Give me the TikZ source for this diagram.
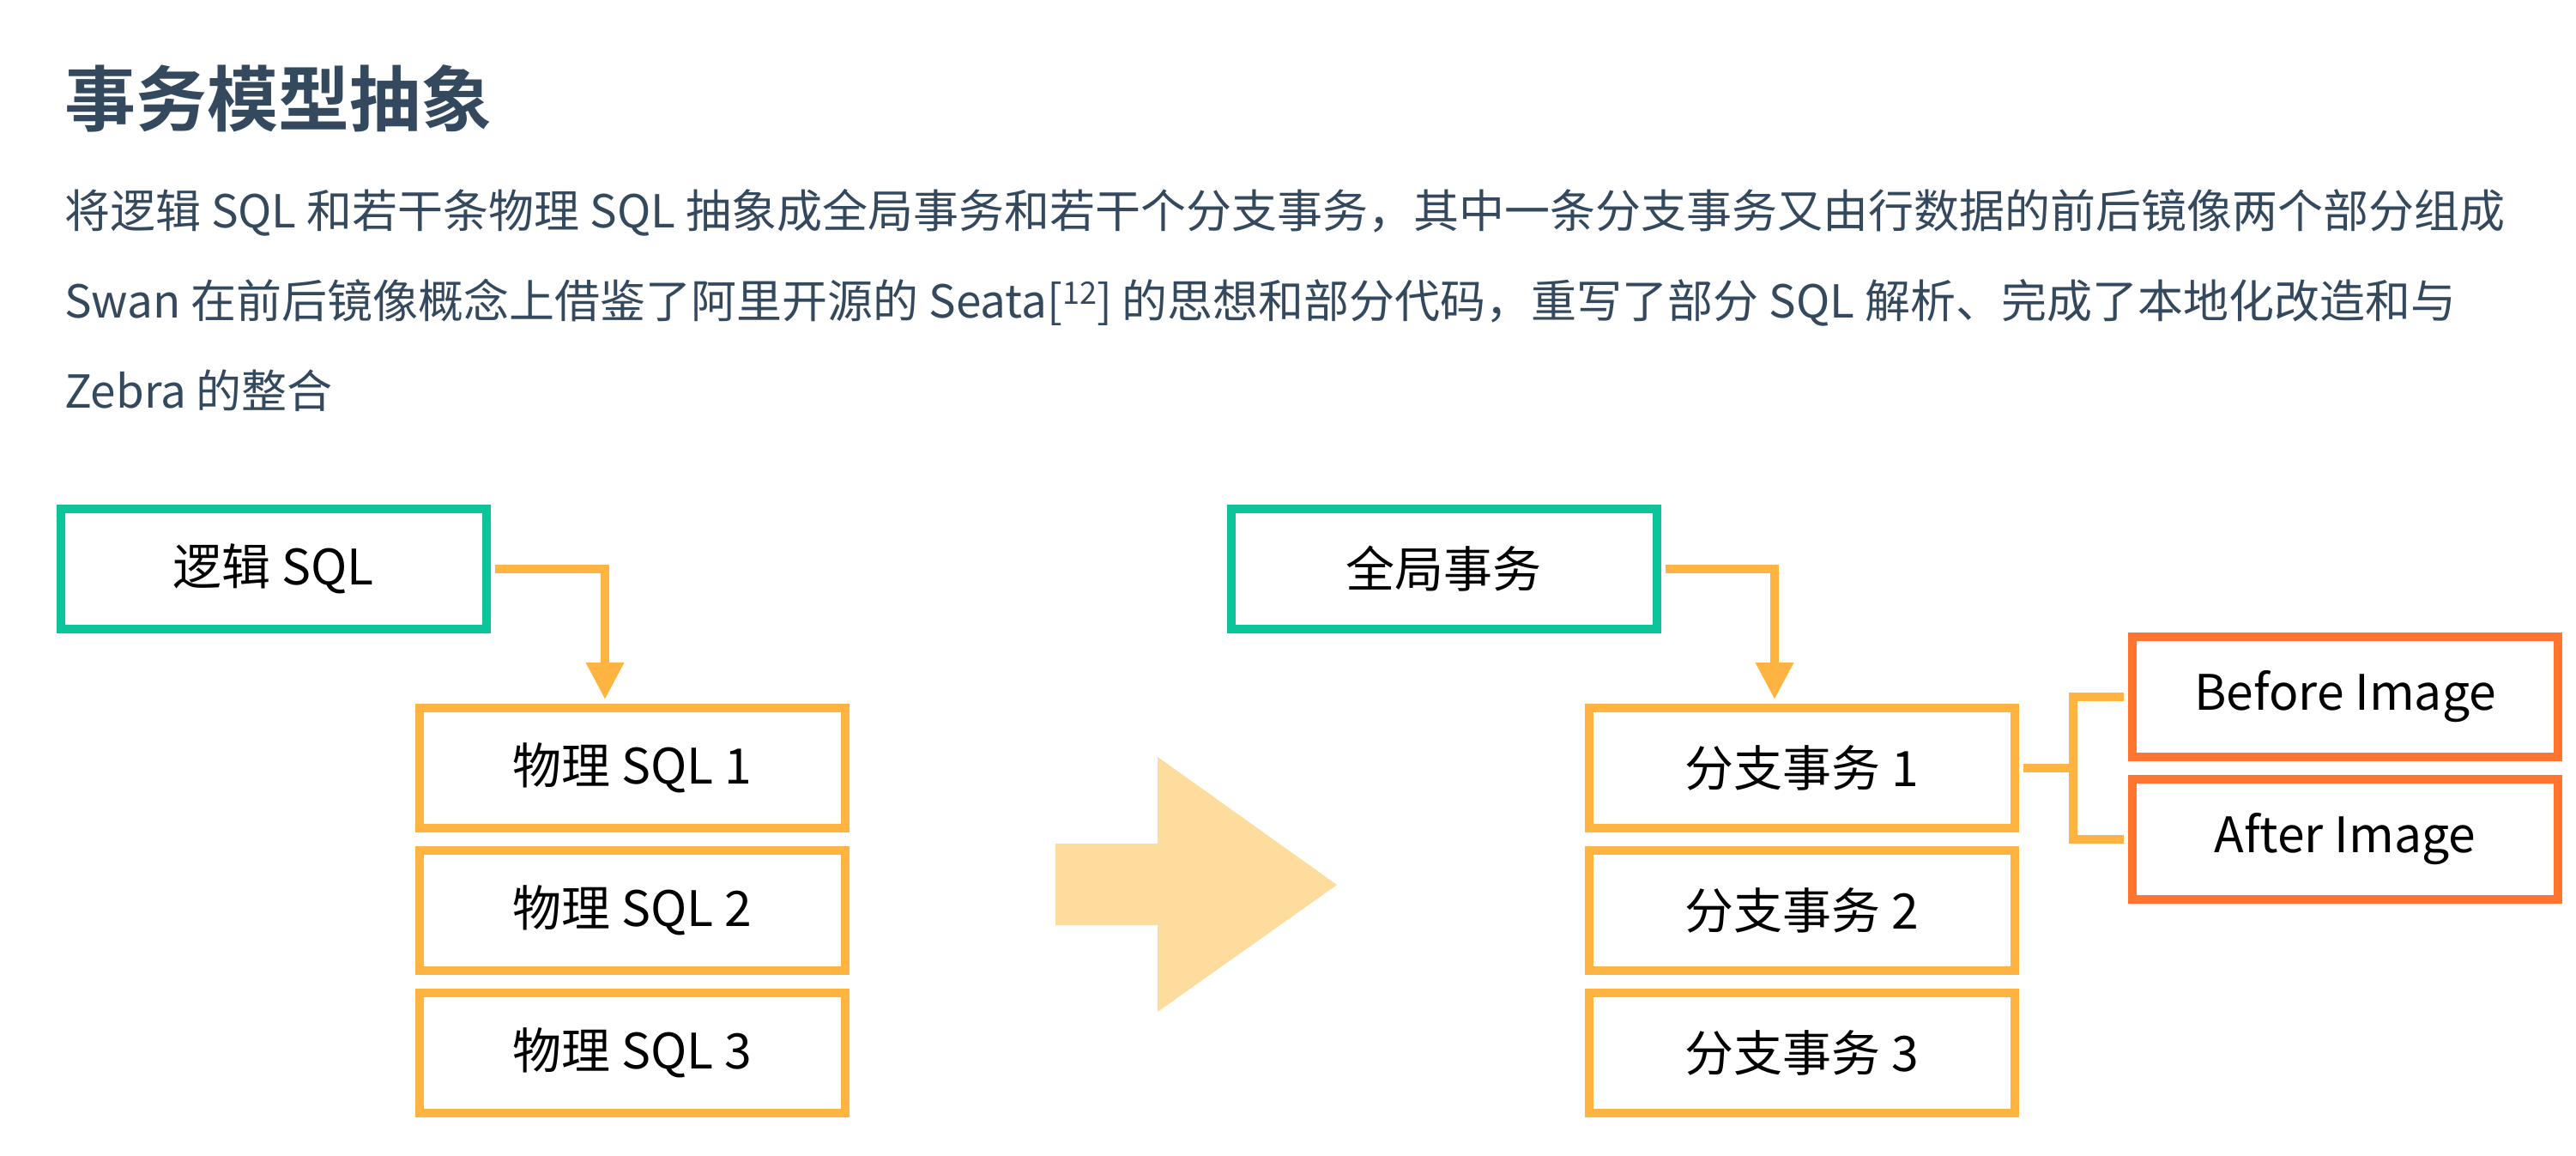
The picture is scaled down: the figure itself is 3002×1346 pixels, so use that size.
\documentclass[tikz,border=0pt]{standalone}
\usepackage{fontspec}
\setmainfont{Noto Sans CJK SC}[BoldFont={Noto Sans CJK SC Bold}]
\usetikzlibrary{arrows.meta}
\definecolor{cgreen}{RGB}{12,196,154}
\definecolor{corange}{RGB}{255,180,65}
\definecolor{cred}{RGB}{255,117,48}
\definecolor{carrow}{RGB}{253,220,158}
\definecolor{ctext}{RGB}{52,73,94}
\tikzset{
  box/.style={draw, line width=10pt, fill=white, minimum width=496pt, minimum height=140pt, inner sep=0pt, font=\fontsize{57pt}{60pt}\selectfont, text=black},
  greenbox/.style={box, draw=cgreen},
  orangebox/.style={box, draw=corange},
  redbox/.style={box, draw=cred},
  conn/.style={draw=corange, line width=10pt},
  bodytext/.style={anchor=base west, inner sep=0pt, text=ctext, font=\fontsize{53pt}{60pt}\selectfont},
}
\begin{document}
\begin{tikzpicture}[x=1pt,y=-1pt]
\useasboundingbox (0,0) rectangle (3002,1346);
\fill[white] (0,0) rectangle (3002,1346);
% title and text
\node[anchor=base west, inner sep=0pt, text=ctext, font=\fontsize{83pt}{90pt}\selectfont\bfseries] (title) at (75,146) {事务模型抽象};
\node[bodytext] (l1) at (75,265) {将逻辑 SQL 和若干条物理 SQL 抽象成全局事务和若干个分支事务，其中一条分支事务又由行数据的前后镜像两个部分组成};
\node[bodytext] (l2) at (75,370) {Swan 在前后镜像概念上借鉴了阿里开源的 Seata[\raisebox{0.3em}{\fontsize{36pt}{36pt}\selectfont 12}] 的思想和部分代码，重写了部分 SQL 解析、完成了本地化改造和与};
\node[bodytext] (l3) at (75,475) {Zebra 的整合};
% big arrow
\fill[carrow] (1230,983) -- (1349,983) -- (1349,882) -- (1558,1031) -- (1349,1179) -- (1349,1078) -- (1230,1078) -- cycle;
% left group
\node[greenbox] (logic) at (318.5,663) {逻辑 SQL};
\node[orangebox] (p1) at (736.5,895) {物理 SQL 1};
\node[orangebox] (p2) at (736.5,1061) {物理 SQL 2};
\node[orangebox] (p3) at (736.5,1227) {物理 SQL 3};
% right group
\node[greenbox] (global) at (1682.5,663) {全局事务};
\node[orangebox] (b1) at (2100,895) {分支事务 1};
\node[orangebox] (b2) at (2100,1061) {分支事务 2};
\node[orangebox] (b3) at (2100,1227) {分支事务 3};
\node[redbox] (before) at (2733,812) {Before Image};
\node[redbox] (after) at (2733,978) {After Image};
% connectors
\draw[conn, shorten <=5pt, shorten >=5pt, -{Triangle[width=42pt,length=43pt]}] (logic.east) -| ([xshift=-31.5pt]p1.north);
\draw[conn, shorten <=5pt, shorten >=5pt, -{Triangle[width=42pt,length=43pt]}] (global.east) -| ([xshift=-32pt]b1.north);
\coordinate (bj) at (2416,895);
\draw[conn, shorten <=5pt] (b1.east) -- (bj);
\draw[conn, shorten <=5pt, shorten >=5pt] (before.west) -| (bj) |- (after.west);
\end{tikzpicture}
\end{document}
